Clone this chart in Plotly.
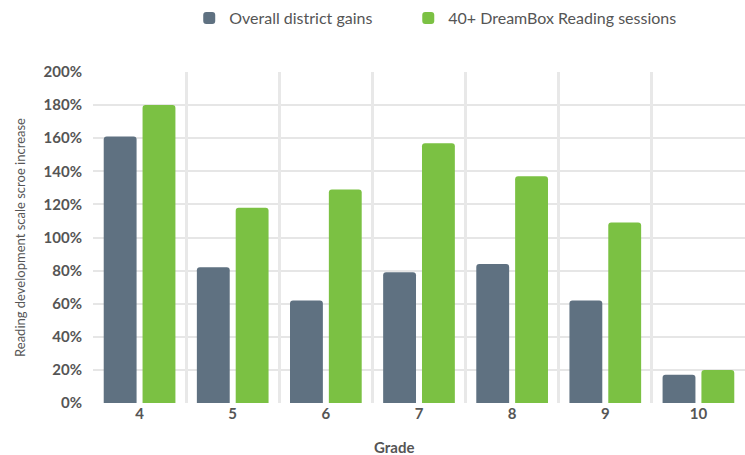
import plotly.graph_objects as go

grades = ["4", "5", "6", "7", "8", "9", "10"]
district_gains = [161, 82, 62, 79, 84, 62, 17]
dreambox_gains = [180, 118, 129, 157, 137, 109, 20]
y_ticks = [0, 20, 40, 60, 80, 100, 120, 140, 160, 180, 200]
y_tick_labels = [f"{v}%" for v in y_ticks]

GRAY = "#5f7181"
GREEN = "#7bc143"
TEXT = "#555555"
FONT = "Lato"

fig = go.Figure()
fig.add_trace(go.Bar(name="Overall district gains", x=grades, y=district_gains,
                     legend="legend",
                     marker=dict(color=GRAY, line=dict(width=0))))
fig.add_trace(go.Bar(name="40+ DreamBox Reading sessions", x=grades, y=dreambox_gains,
                     legend="legend2",
                     marker=dict(color=GREEN, line=dict(width=0))))

# invisible linear axis used only to draw separators between grade groups
fig.add_trace(go.Scatter(x=[-0.5, len(grades) - 0.5], y=[0, 0], xaxis="x2",
                         mode="lines", line=dict(width=0), showlegend=False,
                         hoverinfo="skip"))

legend_style = dict(orientation="h", xref="container", yref="container",
                    xanchor="left", y=0.96, yanchor="middle",
                    font=dict(size=16, color=TEXT), itemclick=False)

fig.update_layout(
    width=745, height=455,
    margin=dict(l=93, r=0, t=72, b=52, autoexpand=False),
    paper_bgcolor="white", plot_bgcolor="white",
    barmode="group", bargap=0.166, bargroupgap=0.154, barcornerradius=3,
    font=dict(family=FONT, color=TEXT),
    legend=dict(x=0.254, **legend_style),
    legend2=dict(x=0.548, **legend_style),
    xaxis=dict(type="category", range=[-0.5, len(grades) - 0.5], showgrid=False,
               showline=False, ticks="", zeroline=False,
               tickfont=dict(size=15, color=TEXT, weight="bold")),
    xaxis2=dict(overlaying="x", range=[-0.5, len(grades) - 0.5],
                tickvals=[i + 0.5 for i in range(len(grades) - 1)],
                showticklabels=False, showgrid=True, gridcolor="#e8e8e8",
                gridwidth=3, zeroline=False, showline=False, ticks=""),
    yaxis=dict(range=[0, 200], tickvals=y_ticks, ticktext=y_tick_labels,
               showgrid=True, gridcolor="#e6e6e6", gridwidth=2, zeroline=False,
               showline=False, ticks="", ticklabelstandoff=10,
               tickfont=dict(size=15, color=TEXT, weight="bold"),
               title=dict(text="Reading development scale scroe increase",
                          font=dict(size=13, color=TEXT), standoff=15)),
)

fig.add_annotation(text="Grade", xref="paper", yref="paper", x=0.462, y=-0.133,
                   xanchor="center", yanchor="middle", showarrow=False,
                   font=dict(size=15, color=TEXT, weight="bold"))

fig.write_html("out.html")
